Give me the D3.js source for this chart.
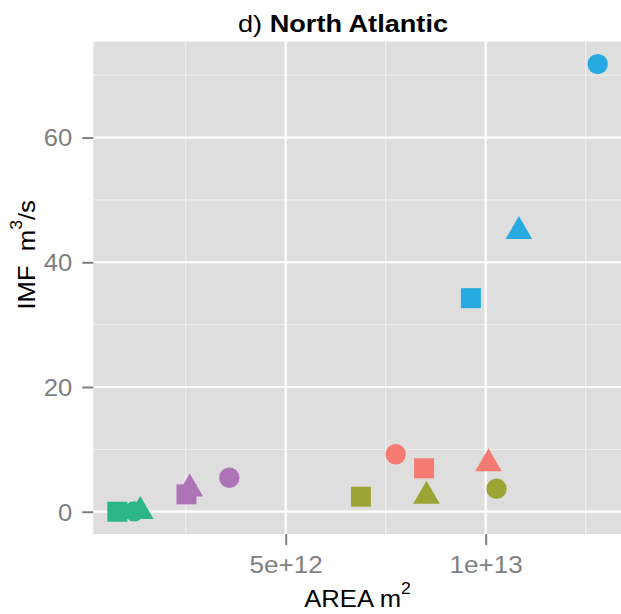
<!DOCTYPE html>
<html>
<head>
<meta charset="utf-8">
<script src="https://cdn.jsdelivr.net/npm/d3@7"></script>
<style>
  body { margin: 0; background: #fff; }
  text { font-family: "Liberation Sans", Arial, sans-serif; white-space: pre; }
</style>
</head>
<body>
<svg id="drawing_region"></svg>
<script>
// groups (colour) and kinds (shape)
const groups = ['G1', 'G2', 'G3', 'G4', 'G5'];
const groupColors = ['#F47A72', '#9CA436', '#2BB784', '#27AAE1', '#AD73B6'];
const kinds = ['square', 'circle', 'triangle'];

// AREA (m^2) and IMF (m^3/s), one value per group, per shape
const squareArea = [8.46e12, 6.88e12, 0.79e12, 9.63e12, 2.52e12];
const squareImf  = [6.96, 2.41, 0.0, 34.24, 2.79];
const circleArea = [7.75e12, 10.27e12, 1.21e12, 12.8e12, 3.59e12];
const circleImf  = [9.22, 3.69, 0.05, 71.78, 5.45];
const triangleArea = [10.07e12, 8.52e12, 1.365e12, 10.83e12, 2.6e12];
const triangleImf  = [7.72, 2.52, 0.05, 44.95, 3.66];

const xMajor = [5e12, 1e13];
const xMajorLabels = ['5e+12', '1e+13'];
const xMinor = [2.5e12, 7.5e12, 1.25e13];
const yMajor = [0, 20, 40, 60];
const yMinor = [10, 30, 50, 70];

const series = {
    square: [squareArea, squareImf],
    circle: [circleArea, circleImf],
    triangle: [triangleArea, triangleImf]
};

const data = [];
kinds.forEach(k => {
    groups.forEach((g, i) => {
        data.push({ group: g, kind: k, x: series[k][0][i], y: series[k][1][i], color: groupColors[i] });
    });
});

const config = {
    width: 621,
    height: 614,
    panel: { left: 93.3, right: 621.7, top: 41.7, bottom: 534.1 }
};
const sx = 1.1; // horizontal stretch of the original font

const svg = d3.select('#drawing_region')
    .attr('width', config.width)
    .attr('height', config.height);

// ggplot-style 5% expansion
const xext = d3.extent(data, d => d.x);
const yext = d3.extent(data, d => d.y);
const xpad = (xext[1] - xext[0]) * 0.05;
const ypad = (yext[1] - yext[0]) * 0.05;

const xscale = d3.scaleLinear()
    .domain([xext[0] - xpad, xext[1] + xpad])
    .range([config.panel.left, config.panel.right]);
const yscale = d3.scaleLinear()
    .domain([yext[0] - ypad, yext[1] + ypad])
    .range([config.panel.bottom, config.panel.top]);

const p = config.panel;

svg.append('rect')
    .attr('x', p.left).attr('y', p.top)
    .attr('width', p.right - p.left).attr('height', p.bottom - p.top)
    .attr('fill', '#DEDEDE');

// minor grid
svg.append('g').selectAll('line').data(xMinor).join('line')
    .attr('x1', d => xscale(d)).attr('x2', d => xscale(d))
    .attr('y1', p.top).attr('y2', p.bottom)
    .attr('stroke', '#F0F0F0').attr('stroke-width', 1);
svg.append('g').selectAll('line').data(yMinor).join('line')
    .attr('y1', d => yscale(d)).attr('y2', d => yscale(d))
    .attr('x1', p.left).attr('x2', p.right)
    .attr('stroke', '#F0F0F0').attr('stroke-width', 1);

// major grid
svg.append('g').selectAll('line').data(xMajor).join('line')
    .attr('x1', d => xscale(d)).attr('x2', d => xscale(d))
    .attr('y1', p.top).attr('y2', p.bottom)
    .attr('stroke', '#FFFFFF').attr('stroke-width', 2.2);
svg.append('g').selectAll('line').data(yMajor).join('line')
    .attr('y1', d => yscale(d)).attr('y2', d => yscale(d))
    .attr('x1', p.left).attr('x2', p.right)
    .attr('stroke', '#FFFFFF').attr('stroke-width', 2.2);

// axes
const xaxis = d3.axisBottom(xscale)
    .tickValues(xMajor)
    .tickFormat((d, i) => xMajorLabels[i])
    .tickSize(11)
    .tickPadding(6);
const xg = svg.append('g')
    .attr('transform', `translate(0, ${p.bottom})`)
    .call(xaxis);
const yaxis = d3.axisLeft(yscale)
    .tickValues(yMajor)
    .tickSize(11)
    .tickPadding(10);
const yg = svg.append('g')
    .attr('transform', `translate(${p.left}, 0)`)
    .call(yaxis);

[xg, yg].forEach(g => {
    g.select('.domain').remove();
    g.selectAll('.tick line').attr('stroke', '#7F7F7F').attr('stroke-width', 2);
    g.selectAll('.tick text')
        .attr('fill', '#7F7F7F')
        .style('font-size', '23.3px')
        .style('font-family', '"Liberation Sans", Arial, sans-serif');
});
xg.selectAll('.tick text')
    .attr('dy', null).attr('y', 38.5)
    .attr('transform', `scale(${sx + 0.02},1)`);
yg.selectAll('.tick text')
    .attr('dy', '0.36em')
    .attr('text-anchor', 'end')
    .attr('transform', `translate(-21.3, 0) scale(${sx},1) translate(21.3, 0)`);

// points
const shape = {
    circle: d3.symbol().type(d3.symbolCircle).size(Math.PI * 10.2 * 10.2),
    square: d3.symbol().type(d3.symbolSquare).size(400),
    triangle: d3.symbol().type(d3.symbolTriangle).size(306)
};
svg.append('g').selectAll('path').data(data).join('path')
    .attr('transform', d => `translate(${xscale(d.x)}, ${yscale(d.y)})`)
    .attr('d', d => shape[d.kind]())
    .attr('fill', d => d.color);

// title
const title = svg.append('g')
    .attr('transform', `translate(343, 32.3) scale(1.14,1)`)
    .append('text')
    .attr('text-anchor', 'middle')
    .style('font-size', '23.8px')
    .attr('fill', '#000');
title.append('tspan').text('d) ');
title.append('tspan').attr('font-weight', 'bold').text('North Atlantic');

// x title
const xt = svg.append('g')
    .attr('transform', `translate(${(p.left + p.right) / 2}, 607.3) scale(${sx},1)`)
    .append('text')
    .attr('text-anchor', 'middle')
    .style('font-size', '23.3px')
    .attr('fill', '#000');
xt.append('tspan').text('AREA m');
xt.append('tspan').attr('dy', -13).style('font-size', '16px').text('2');

// y title
const yt = svg.append('g')
    .attr('transform', `translate(34.5, 309.5) rotate(-90) scale(${sx},1)`)
    .append('text')
    .attr('text-anchor', 'start')
    .style('font-size', '23.3px')
    .attr('fill', '#000');
yt.append('tspan').text('IMF  m');
yt.append('tspan').attr('dy', -13).style('font-size', '16px').text('3');
yt.append('tspan').attr('dy', 13).text('/s');
</script>
</body>
</html>
